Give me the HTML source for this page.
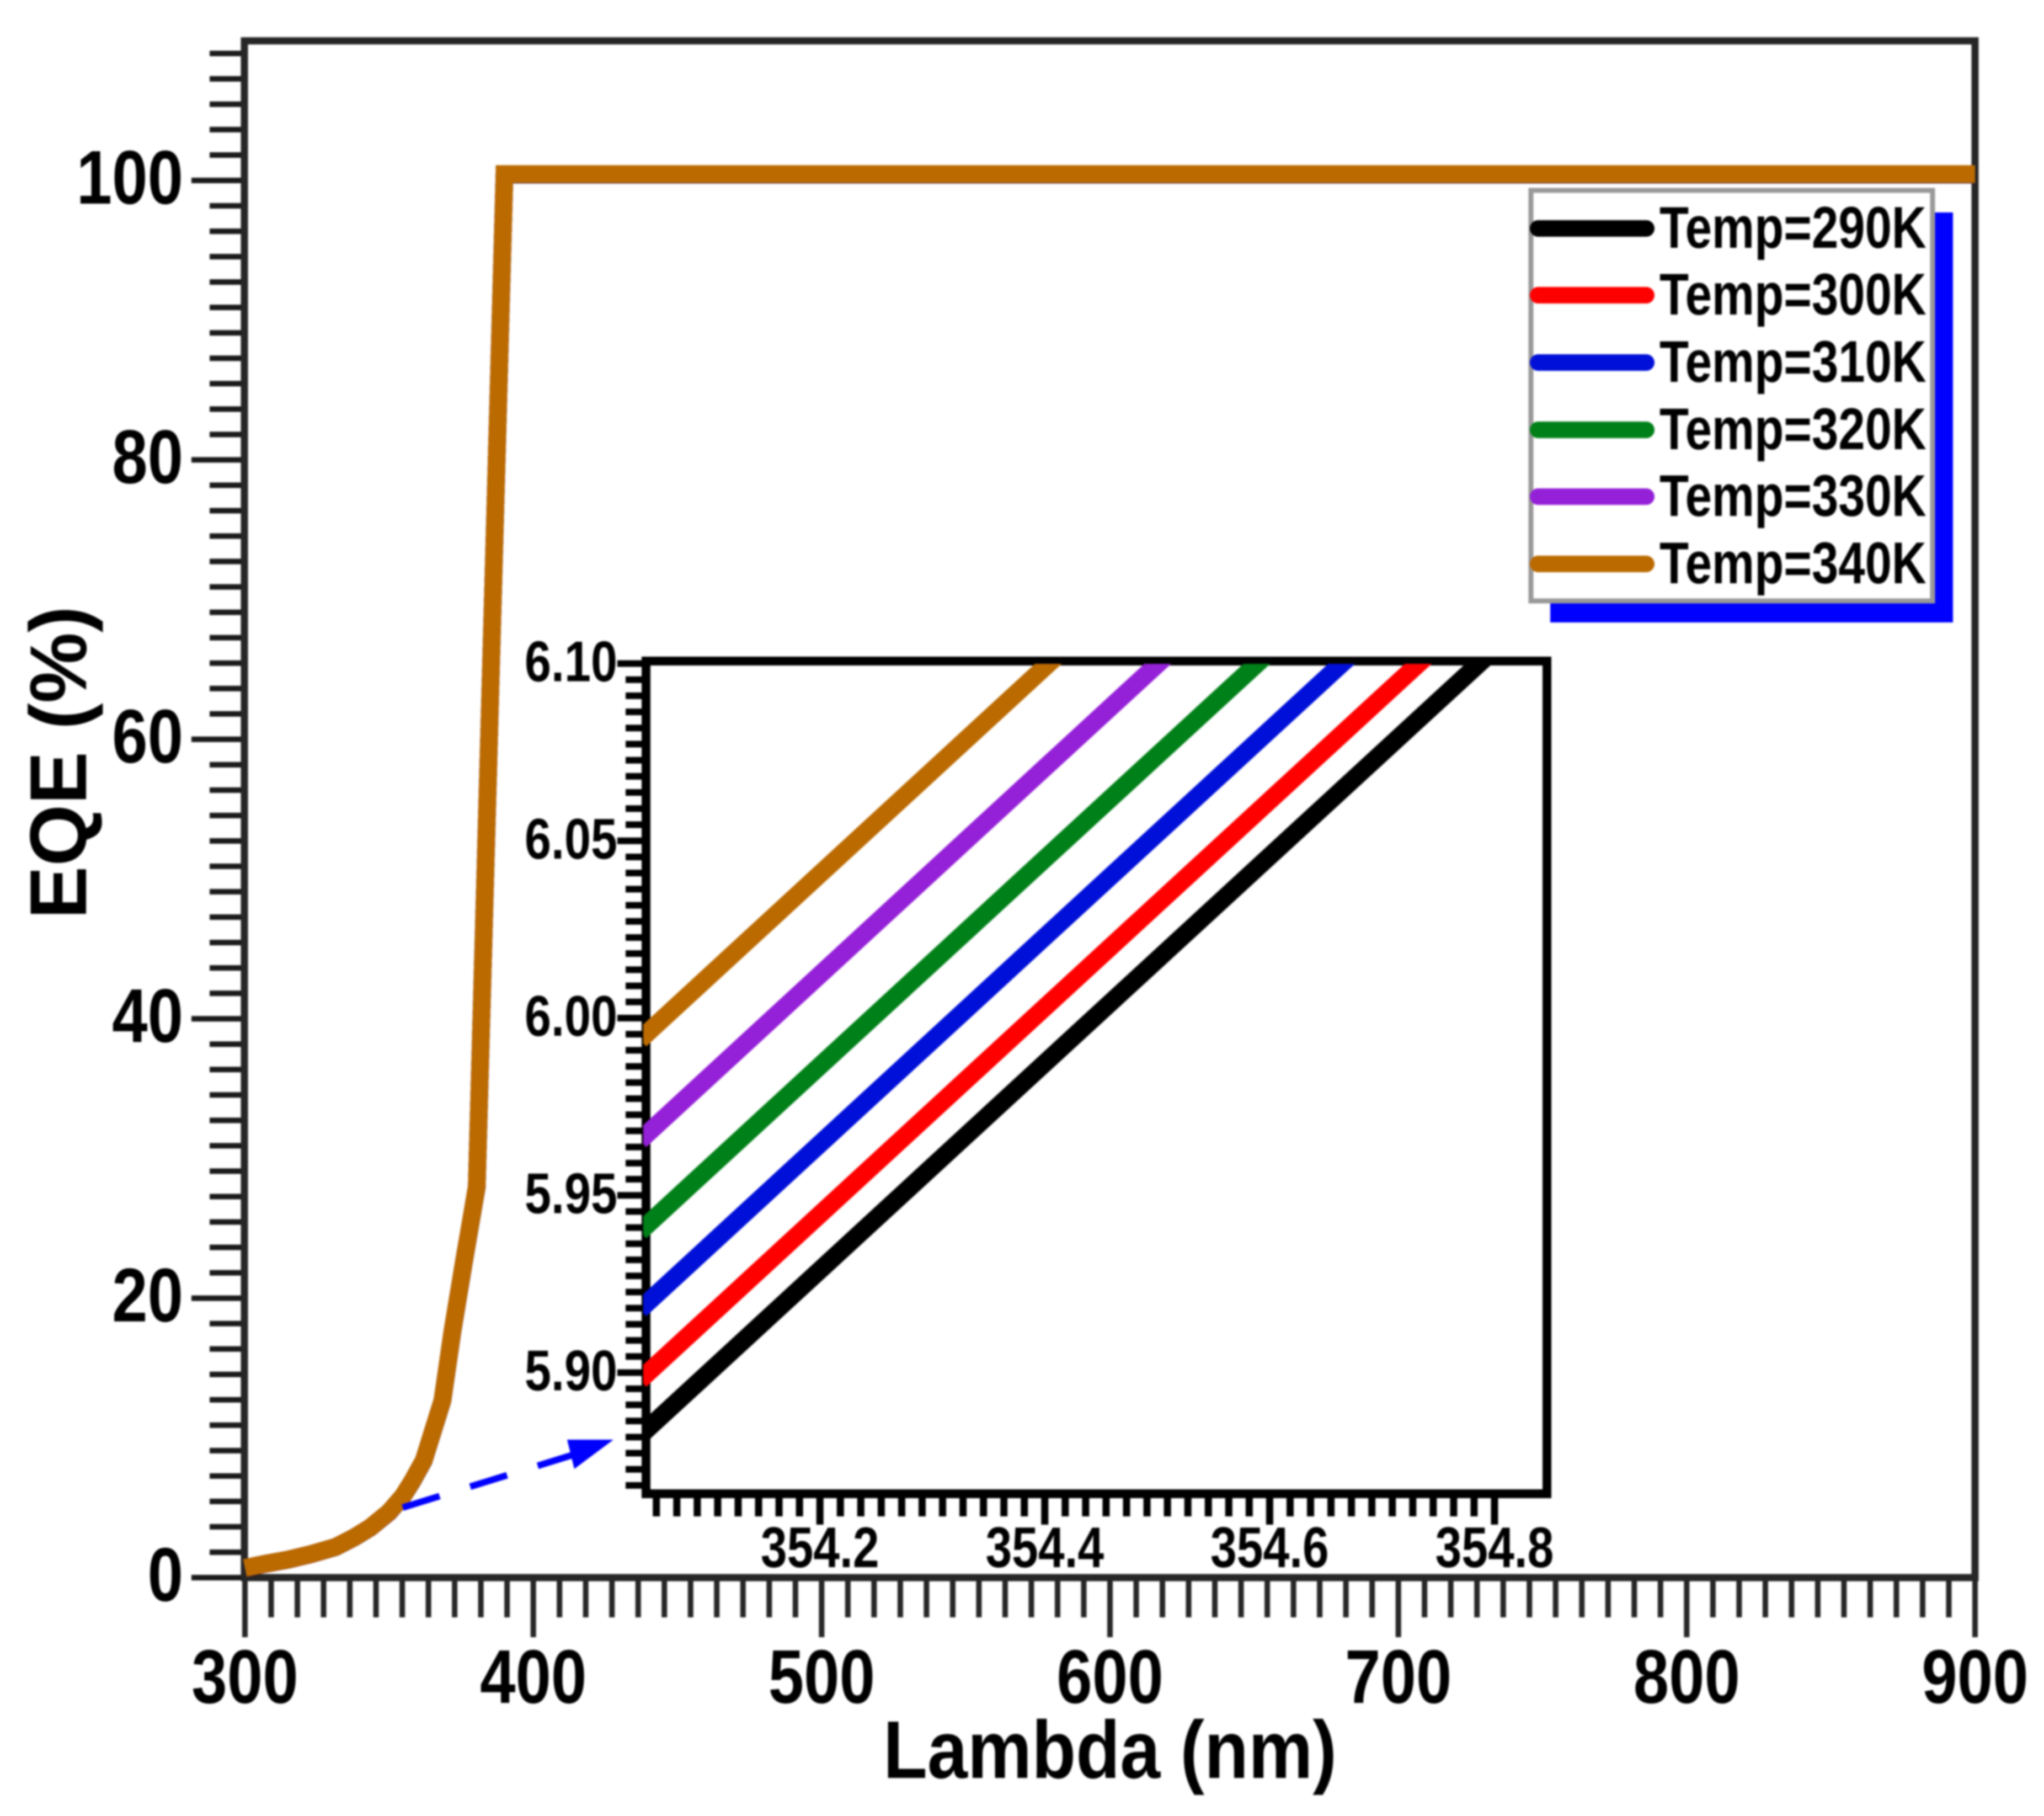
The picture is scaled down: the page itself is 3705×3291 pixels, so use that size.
<!DOCTYPE html>
<html lang="en">
<head>
<meta charset="utf-8">
<title>EQE vs Lambda</title>
<style>
html,body{margin:0;padding:0;background:#fff;}
#chart{display:block;width:3705px;height:3291px;filter:blur(1.5px);}
text{font-family:"Liberation Sans",Arial,sans-serif;font-weight:bold;fill:#000;}
</style>
</head>
<body>
<svg id="chart" xmlns="http://www.w3.org/2000/svg" width="3705" height="3291" viewBox="0 0 3705 3291">
  <defs>
    <clipPath id="inset-clip"><rect x="1166" y="1203" width="1631" height="1496"/></clipPath>
  </defs>
  <rect x="0" y="0" width="3705" height="3291" fill="#fff"/>
  <g id="main-ticks"></g>
  <g id="main-labels"></g>
  <rect x="443" y="74" width="3137" height="2785" fill="none" stroke="#262626" stroke-width="13"/>
  <g id="main-series"></g>

  <text transform="translate(2012 3222) scale(.885 1)" font-size="148" text-anchor="middle">Lambda (nm)</text>
  <text transform="translate(156 1382) rotate(-90) scale(.985 1)" font-size="146" text-anchor="middle">EQE (%)</text>

  <g>
    <line x1="730" y1="2732" x2="1050" y2="2633" stroke="#0000ff" stroke-width="12" stroke-dasharray="70 58"/>
    <polygon points="1028,2609 1112,2609 1041,2662" fill="#0000ff"/>
  </g>

  <g>
    <rect x="1172" y="1198" width="1632" height="1508" fill="#fff"/>
    <g id="inset-ticks"></g>
    <g id="inset-labels"></g>
    <rect x="1171" y="1198" width="1633" height="1509" fill="none" stroke="#000" stroke-width="16"/>
    <g id="inset-series" clip-path="url(#inset-clip)"></g>
  </g>

  <g>
    <rect x="2810" y="385" width="730" height="743" fill="#0000ff"/>
    <rect x="2775" y="345" width="728" height="744" fill="#fff" stroke="#999" stroke-width="9"/>
    <g>
      <line x1="2788" y1="414" x2="2984" y2="414" stroke="#000000" stroke-width="30" stroke-linecap="round"/>
      <text transform="translate(3008 449) scale(.812 1)" font-size="107">Temp=290K</text>
    </g>
    <g>
      <line x1="2788" y1="535" x2="2984" y2="535" stroke="#ff0000" stroke-width="30" stroke-linecap="round"/>
      <text transform="translate(3008 570) scale(.812 1)" font-size="107">Temp=300K</text>
    </g>
    <g>
      <line x1="2788" y1="657" x2="2984" y2="657" stroke="#0010d8" stroke-width="30" stroke-linecap="round"/>
      <text transform="translate(3008 692) scale(.812 1)" font-size="107">Temp=310K</text>
    </g>
    <g>
      <line x1="2788" y1="779" x2="2984" y2="779" stroke="#008018" stroke-width="30" stroke-linecap="round"/>
      <text transform="translate(3008 814) scale(.812 1)" font-size="107">Temp=320K</text>
    </g>
    <g>
      <line x1="2788" y1="900" x2="2984" y2="900" stroke="#9420d8" stroke-width="30" stroke-linecap="round"/>
      <text transform="translate(3008 935) scale(.812 1)" font-size="107">Temp=330K</text>
    </g>
    <g>
      <line x1="2788" y1="1022" x2="2984" y2="1022" stroke="#bb6a00" stroke-width="30" stroke-linecap="round"/>
      <text transform="translate(3008 1057) scale(.812 1)" font-size="107">Temp=340K</text>
    </g>
  </g>
</svg>
<script>
// Main chart data
const mainLambda = [300, 307, 315, 323, 331.4, 338, 343.5, 350, 354.8, 358, 362, 368.5, 372, 376, 379, 380.4, 390, 900];
const mainEqe290 = [0.68, 0.98, 1.28, 1.68, 2.18, 2.88, 3.58, 4.67, 5.82, 6.87, 8.37, 12.66, 17.65, 22.64, 26.25, 27.95, 100.41, 100.41];
const mainEqe300 = [0.68, 0.98, 1.28, 1.68, 2.18, 2.88, 3.58, 4.68, 5.83, 6.88, 8.38, 12.67, 17.66, 22.65, 26.26, 27.96, 100.42, 100.42];
const mainEqe310 = [0.69, 0.99, 1.29, 1.69, 2.19, 2.89, 3.59, 4.68, 5.83, 6.88, 8.38, 12.68, 17.67, 22.66, 26.27, 27.97, 100.43, 100.43];
const mainEqe320 = [0.69, 0.99, 1.29, 1.69, 2.19, 2.89, 3.59, 4.69, 5.84, 6.89, 8.39, 12.68, 17.68, 22.67, 26.28, 27.98, 100.44, 100.44];
const mainEqe330 = [0.70, 1.00, 1.30, 1.70, 2.20, 2.90, 3.60, 4.69, 5.84, 6.89, 8.39, 12.69, 17.69, 22.69, 26.29, 27.99, 100.45, 100.45];
const mainEqe340 = [0.70, 1.00, 1.30, 1.70, 2.20, 2.90, 3.60, 4.70, 5.85, 6.90, 8.40, 12.70, 17.70, 22.70, 26.30, 28.00, 100.46, 100.46];
const mainXTickLabels = ["300", "400", "500", "600", "700", "800", "900"];
const mainYTickLabels = ["0", "20", "40", "60", "80", "100"];

// Inset chart data
const insetLambda = [354.04, 354.4, 354.8];
const insetEqe290 = [5.8822, 5.9873, 6.1040];
const insetEqe300 = [5.8979, 6.0030, 6.1197];
const insetEqe310 = [5.9178, 6.0229, 6.1396];
const insetEqe320 = [5.9398, 6.0449, 6.1616];
const insetEqe330 = [5.9655, 6.0706, 6.1873];
const insetEqe340 = [5.9939, 6.0990, 6.2157];
const insetXTickLabels = ["354.2", "354.4", "354.6", "354.8"];
const insetYTickLabels = ["5.90", "5.95", "6.00", "6.05", "6.10"];

const NS = 'http://www.w3.org/2000/svg';

function mainX(v) { return 444 + (v - 300) * 5.2267; }
function mainY(v) { return 2859 - v * 25.32; }
function insetX(v) { return 2709 - (354.8 - v) * 2038; }
function insetY(v) { return 1845 - (v - 6) * 6425; }

function make(tag, parent, attrs) {
  const el = document.createElementNS(NS, tag);
  for (const k in attrs) el.setAttribute(k, attrs[k]);
  parent.appendChild(el);
  return el;
}

function pathFrom(xs, ys, fx, fy) {
  return xs.map(function (x, i) {
    return (i ? 'L' : 'M') + fx(x).toFixed(1) + ' ' + fy(ys[i]).toFixed(1);
  }).join(' ');
}

const mainTicks = document.getElementById('main-ticks');
const mainLabels = document.getElementById('main-labels');
const insetTicks = document.getElementById('inset-ticks');
const insetLabels = document.getElementById('inset-labels');
const mainSeries = document.getElementById('main-series');
const insetSeries = document.getElementById('inset-series');

// Main x ticks: 10 minor ticks between labelled ticks
for (let i = 0; i <= 66; i++) {
  const v = 300 + i * 100 / 11;
  const major = i % 11 === 0;
  const t = make('line', mainTicks, { x1: mainX(v), x2: mainX(v), y1: 2859, y2: major ? 2967 : 2931, stroke: '#262626', 'stroke-width': 10 });
  
  
}
// Main y ticks
for (let i = 0; i <= 60; i++) {
  const v = i * 20 / 11;
  const major = i % 11 === 0;
  const t = make('line', mainTicks, { x1: major ? 347 : 380, x2: 443, y1: mainY(v), y2: mainY(v), stroke: '#1a1a1a', 'stroke-width': 10 });
  
  
}
mainXTickLabels.forEach(function (s) {
  const t = make('text', mainLabels, { transform: 'translate(' + mainX(+s) + ' 3086) scale(.84 1)', 'font-size': 138, 'text-anchor': 'middle' });
  t.textContent = s;
  
  
});
mainYTickLabels.forEach(function (s) {
  const t = make('text', mainLabels, { transform: 'translate(332 ' + (mainY(+s) + 42) + ') scale(.84 1)', 'font-size': 138, 'text-anchor': 'end' });
  t.textContent = s;
  
  
});

// Main curves
const mainSet = [mainEqe290, mainEqe300, mainEqe310, mainEqe320, mainEqe330, mainEqe340];
const seriesColors = ['#000000', '#ff0000', '#0010d8', '#008018', '#9420d8', '#bb6a00'];
mainSet.forEach(function (ys, i) {
  const p = make('path', mainSeries, { d: pathFrom(mainLambda, ys, mainX, mainY), fill: 'none', stroke: seriesColors[i], 'stroke-width': 32, 'stroke-linejoin': 'miter' });
  
  
});

// Inset x ticks
for (let i = -8; i <= 33; i++) {
  const v = 354.2 + i * 0.2 / 11;
  if (insetX(v) < 1180 || insetX(v) > 2795) continue;
  const major = i % 11 === 0;
  const t = make('line', insetTicks, { x1: insetX(v), x2: insetX(v), y1: 2707, y2: major ? 2763 : 2748, stroke: '#000', 'stroke-width': 13 });
  
  
}
// Inset y ticks
for (let i = -8; i <= 44; i++) {
  const v = 5.9 + i * 0.05 / 11;
  if (insetY(v) > 2700) continue;
  const major = i % 11 === 0;
  const t = make('line', insetTicks, { x1: major ? 1119 : 1134, x2: 1171, y1: insetY(v), y2: insetY(v), stroke: '#000', 'stroke-width': 12 });
  
  
}
insetXTickLabels.forEach(function (s) {
  const t = make('text', insetLabels, { transform: 'translate(' + insetX(+s) + ' 2840) scale(.825 1)', 'font-size': 104, 'text-anchor': 'middle' });
  t.textContent = s;
  
  
});
insetYTickLabels.forEach(function (s) {
  const t = make('text', insetLabels, { transform: 'translate(1119 ' + (insetY(+s) + 32) + ') scale(.83 1)', 'font-size': 104, 'text-anchor': 'end' });
  t.textContent = s;
  
  
});

// Inset curves
const insetSet = [insetEqe290, insetEqe300, insetEqe310, insetEqe320, insetEqe330, insetEqe340];
insetSet.forEach(function (ys, i) {
  const p = make('path', insetSeries, { d: pathFrom(insetLambda, ys, insetX, insetY), fill: 'none', stroke: seriesColors[i], 'stroke-width': 33 });
  
  
});
</script>
</body>
</html>
